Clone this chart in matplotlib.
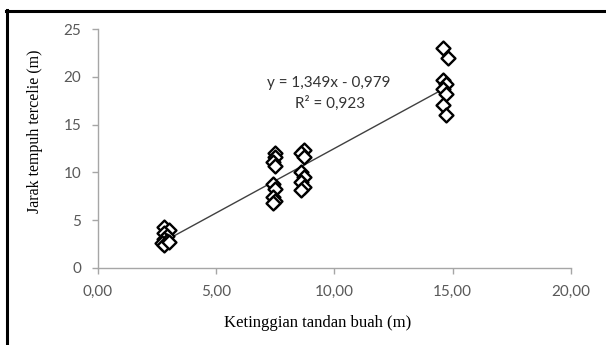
import numpy as np
import matplotlib.pyplot as plt
from matplotlib.lines import Line2D

# Daten
tinggi = [2.8, 3.0, 2.8, 2.9, 2.8, 2.9, 2.7, 2.8, 3.0,
          7.5, 7.5, 7.4, 7.5, 7.4, 7.5, 7.4, 7.5, 7.4,
          8.7, 8.6, 8.7, 8.6, 8.7, 8.6, 8.7, 8.6,
          14.6, 14.8, 14.6, 14.7, 14.6, 14.7, 14.6, 14.7]
jarak = [4.3, 4.0, 3.7, 3.3, 3.0, 2.8, 2.6, 2.4, 2.7,
         12.0, 11.6, 11.1, 10.7, 8.8, 8.3, 7.4, 7.0, 6.8,
         12.3, 12.0, 11.6, 10.0, 9.5, 9.0, 8.5, 8.2,
         23.0, 22.0, 19.7, 19.2, 18.7, 18.2, 17.0, 16.0]
slope, intercept = 1.349, -0.979
x_ticks = [0, 5, 10, 15, 20]
x_ticklabels = ["0,00", "5,00", "10,00", "15,00", "20,00"]
y_ticks = [0, 5, 10, 15, 20, 25]

plt.rcParams["font.family"] = ["Lato", "DejaVu Sans"]

fig = plt.figure(figsize=(6.06, 3.45), dpi=100)
ax = fig.add_axes([0.1617, 0.2232, 0.7805, 0.6927])

# Trendlinie
xl = np.array([min(tinggi), max(tinggi)])
ax.plot(xl, slope * xl + intercept, color="#404040", lw=1.0, zorder=2)

ax.scatter(tinggi, jarak, marker="D", s=50, facecolor="white",
           edgecolor="black", linewidth=1.7, zorder=3)

ax.text(0.488, 0.774, "y = 1,349x - 0,979", transform=ax.transAxes,
        ha="center", va="center", fontsize=11, color="#333333")
ax.text(0.49, 0.69, "R² = 0,923", transform=ax.transAxes,
        ha="center", va="center", fontsize=11, color="#333333")

ax.set_xlim(0, 20)
ax.set_ylim(0, 25)
ax.set_xticks(x_ticks)
ax.set_xticklabels(x_ticklabels)
ax.set_yticks(y_ticks)
for s in ["top", "right"]:
    ax.spines[s].set_visible(False)
for s in ["left", "bottom"]:
    ax.spines[s].set_color("#a6a6a6")
    ax.spines[s].set_linewidth(1.0)
ax.tick_params(colors="#a6a6a6", labelcolor="#595959", labelsize=11,
               direction="out", length=4, width=1.0)
ax.tick_params(axis="x", pad=8)
ax.tick_params(axis="y", pad=8)

fig.text(318 / 606, 1 - 323 / 345, "Ketinggian tandan buah (m)",
         family="Liberation Serif", fontsize=12, ha="center", va="center")
fig.text(35 / 606, 1 - 131 / 345, "Jarak tempuh tercelie (m)",
         family="Liberation Serif", fontsize=11.5, ha="center", va="center",
         rotation=90)

# Rahmen links und oben
fig.add_artist(Line2D([7 / 606, 7 / 606], [0, 1 - 10 / 345], color="black",
                      lw=2.2, transform=fig.transFigure))
fig.add_artist(Line2D([6 / 606, 1], [1 - 10.5 / 345, 1 - 10.5 / 345],
                      color="black", lw=2.2, transform=fig.transFigure))

fig.savefig("out.png", dpi=100)
